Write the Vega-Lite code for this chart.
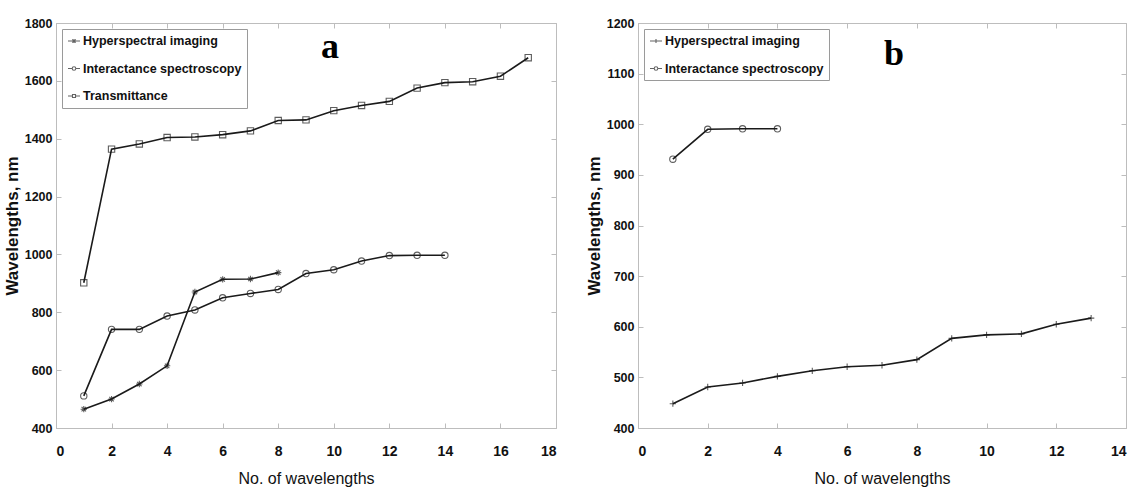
{
  "$schema": "https://vega.github.io/schema/vega-lite/v6.json",
  "padding": {"left": 2, "top": 16, "right": 5, "bottom": 0},
  "background": "white",
  "datasets": {
    "a": [
      {"method": "Hyperspectral imaging", "n": 1, "wl": 465},
      {"method": "Hyperspectral imaging", "n": 2, "wl": 500},
      {"method": "Hyperspectral imaging", "n": 3, "wl": 552},
      {"method": "Hyperspectral imaging", "n": 4, "wl": 615},
      {"method": "Hyperspectral imaging", "n": 5, "wl": 870},
      {"method": "Hyperspectral imaging", "n": 6, "wl": 914},
      {"method": "Hyperspectral imaging", "n": 7, "wl": 915},
      {"method": "Hyperspectral imaging", "n": 8, "wl": 937},
      {"method": "Interactance spectroscopy", "n": 1, "wl": 511},
      {"method": "Interactance spectroscopy", "n": 2, "wl": 741},
      {"method": "Interactance spectroscopy", "n": 3, "wl": 741},
      {"method": "Interactance spectroscopy", "n": 4, "wl": 787},
      {"method": "Interactance spectroscopy", "n": 5, "wl": 808},
      {"method": "Interactance spectroscopy", "n": 6, "wl": 850},
      {"method": "Interactance spectroscopy", "n": 7, "wl": 865},
      {"method": "Interactance spectroscopy", "n": 8, "wl": 879},
      {"method": "Interactance spectroscopy", "n": 9, "wl": 934},
      {"method": "Interactance spectroscopy", "n": 10, "wl": 947},
      {"method": "Interactance spectroscopy", "n": 11, "wl": 977},
      {"method": "Interactance spectroscopy", "n": 12, "wl": 996},
      {"method": "Interactance spectroscopy", "n": 13, "wl": 997},
      {"method": "Interactance spectroscopy", "n": 14, "wl": 997},
      {"method": "Transmittance", "n": 1, "wl": 902},
      {"method": "Transmittance", "n": 2, "wl": 1364},
      {"method": "Transmittance", "n": 3, "wl": 1382},
      {"method": "Transmittance", "n": 4, "wl": 1404},
      {"method": "Transmittance", "n": 5, "wl": 1406},
      {"method": "Transmittance", "n": 6, "wl": 1414},
      {"method": "Transmittance", "n": 7, "wl": 1427},
      {"method": "Transmittance", "n": 8, "wl": 1463},
      {"method": "Transmittance", "n": 9, "wl": 1465},
      {"method": "Transmittance", "n": 10, "wl": 1497},
      {"method": "Transmittance", "n": 11, "wl": 1515},
      {"method": "Transmittance", "n": 12, "wl": 1529},
      {"method": "Transmittance", "n": 13, "wl": 1575},
      {"method": "Transmittance", "n": 14, "wl": 1594},
      {"method": "Transmittance", "n": 15, "wl": 1597},
      {"method": "Transmittance", "n": 16, "wl": 1616},
      {"method": "Transmittance", "n": 17, "wl": 1680}
    ],
    "b": [
      {"method": "Hyperspectral imaging", "n": 1, "wl": 448},
      {"method": "Hyperspectral imaging", "n": 2, "wl": 481},
      {"method": "Hyperspectral imaging", "n": 3, "wl": 489},
      {"method": "Hyperspectral imaging", "n": 4, "wl": 502},
      {"method": "Hyperspectral imaging", "n": 5, "wl": 513},
      {"method": "Hyperspectral imaging", "n": 6, "wl": 521},
      {"method": "Hyperspectral imaging", "n": 7, "wl": 524},
      {"method": "Hyperspectral imaging", "n": 8, "wl": 535},
      {"method": "Hyperspectral imaging", "n": 9, "wl": 577},
      {"method": "Hyperspectral imaging", "n": 10, "wl": 584},
      {"method": "Hyperspectral imaging", "n": 11, "wl": 586},
      {"method": "Hyperspectral imaging", "n": 12, "wl": 605},
      {"method": "Hyperspectral imaging", "n": 13, "wl": 617},
      {"method": "Interactance spectroscopy", "n": 1, "wl": 931},
      {"method": "Interactance spectroscopy", "n": 2, "wl": 990},
      {"method": "Interactance spectroscopy", "n": 3, "wl": 991},
      {"method": "Interactance spectroscopy", "n": 4, "wl": 991}
    ]
  },
  "config": {
    "view": {"stroke": "#bdbdbd", "strokeWidth": 1},
    "axis": {
      "domainColor": "#bdbdbd",
      "tickColor": "#bdbdbd",
      "tickSize": -5,
      "grid": false,
      "format": "d",
      "labelColor": "#111111",
      "titleColor": "#111111",
      "labelFont": "Liberation Sans",
      "labelFontWeight": "bold"
    },
    "axisX": {"labelFontSize": 14, "labelPadding": 21, "titleFont": "Liberation Sans", "titleFontSize": 16, "titleFontWeight": "normal", "titlePadding": 12},
    "axisY": {"labelFontSize": 12.5, "labelPadding": 9, "titleFont": "Liberation Sans", "titleFontSize": 17, "titleFontWeight": "bold", "titlePadding": 3},
    "legend": {
      "orient": "top-left",
      "offset": 6,
      "title": null,
      "fillColor": "white",
      "strokeColor": "#9a9a9a",
      "padding": 5,
      "rowPadding": 13.5,
      "labelFont": "Liberation Sans",
      "labelFontSize": 12.5,
      "labelFontWeight": "bold",
      "labelColor": "#111111",
      "labelOffset": 2,
      "labelLimit": 0,
      "symbolSize": 144,
      "symbolStrokeColor": "#222222",
      "symbolStrokeWidth": 1.1,
      "symbolFillColor": "transparent"
    },
    "title": {"font": "Liberation Serif", "fontSize": 36, "fontWeight": "bold", "color": "#000000", "anchor": "start", "frame": "group", "baseline": "alphabetic"}
  },
  "hconcat": [
    {
      "width": 500,
      "height": 405,
      "title": {"text": "a", "dx": 265, "offset": -49},
      "data": {"name": "a"},
      "layer": [
        {
          "mark": {"type": "line", "color": "#1a1a1a", "strokeWidth": 1.6},
          "encoding": {
            "x": {"field": "n", "type": "quantitative", "scale": {"domain": [0, 18], "nice": false}, "axis": {"values": [0, 2, 4, 6, 8, 10, 12, 14, 16, 18], "title": "No. of wavelengths"}},
            "y": {"field": "wl", "type": "quantitative", "scale": {"domain": [400, 1800], "nice": false, "zero": false}, "axis": {"values": [400, 600, 800, 1000, 1200, 1400, 1600, 1800], "title": "Wavelengths, nm"}},
            "detail": {"field": "method"}
          }
        },
        {
          "mark": {"type": "point", "filled": false, "stroke": "#1a1a1a", "strokeWidth": 1.1, "size": 40},
          "encoding": {
            "x": {"field": "n", "type": "quantitative", "axis": null},
            "y": {"field": "wl", "type": "quantitative", "axis": null},
            "shape": {
              "field": "method",
              "type": "nominal",
              "scale": {
                "domain": ["Hyperspectral imaging", "Interactance spectroscopy", "Transmittance"],
                "range": ["M-1,0L1,0M0,-1L0,1M-0.7,-0.7L0.7,0.7M-0.7,0.7L0.7,-0.7", "circle", "square"]
              },
              "legend": null
            }
          }
        },
        {
          "transform": [{"filter": "false"}],
          "mark": {"type": "point", "filled": false, "stroke": "#1a1a1a", "strokeWidth": 1.1},
          "encoding": {
            "x": {"field": "n", "type": "quantitative", "axis": null},
            "y": {"field": "wl", "type": "quantitative", "axis": null},
            "shape": {
              "field": "method",
              "type": "nominal",
              "scale": {
                "domain": ["Hyperspectral imaging", "Interactance spectroscopy", "Transmittance"],
                "range": [
                  "M-1,0L1,0M-0.28,-0.28L0.28,0.28M-0.28,0.28L0.28,-0.28M0,-0.3L0,0.3",
                  "M-1,0L-0.3,0M0.3,0L1,0M-0.3,0A0.3,0.3 0 1,0 0.3,0A0.3,0.3 0 1,0 -0.3,0",
                  "M-1,0L-0.25,0M0.25,0L1,0M-0.25,-0.25L0.25,-0.25L0.25,0.25L-0.25,0.25Z"
                ]
              }
            }
          }
        },
        {
          "mark": {"type": "point", "opacity": 0},
          "encoding": {
            "x": {"field": "n", "type": "quantitative", "axis": {"orient": "top", "labels": false, "title": null, "domain": false, "values": [0, 2, 4, 6, 8, 10, 12, 14, 16, 18]}},
            "y": {"field": "wl", "type": "quantitative", "axis": {"orient": "right", "labels": false, "title": null, "domain": false, "values": [400, 600, 800, 1000, 1200, 1400, 1600, 1800]}}
          }
        }
      ],
      "resolve": {"axis": {"x": "independent", "y": "independent"}, "scale": {"shape": "independent"}, "legend": {"shape": "independent"}}
    },
    {
      "width": 488,
      "height": 405,
      "title": {"text": "b", "dx": 246, "offset": -56},
      "data": {"name": "b"},
      "layer": [
        {
          "mark": {"type": "line", "color": "#1a1a1a", "strokeWidth": 1.6},
          "encoding": {
            "x": {"field": "n", "type": "quantitative", "scale": {"domain": [0, 14], "nice": false}, "axis": {"values": [0, 2, 4, 6, 8, 10, 12, 14], "title": "No. of wavelengths"}},
            "y": {"field": "wl", "type": "quantitative", "scale": {"domain": [400, 1200], "nice": false, "zero": false}, "axis": {"values": [400, 500, 600, 700, 800, 900, 1000, 1100, 1200], "title": "Wavelengths, nm"}},
            "detail": {"field": "method"}
          }
        },
        {
          "mark": {"type": "point", "filled": false, "stroke": "#1a1a1a", "strokeWidth": 1.1, "size": 40},
          "encoding": {
            "x": {"field": "n", "type": "quantitative", "axis": null},
            "y": {"field": "wl", "type": "quantitative", "axis": null},
            "shape": {
              "field": "method",
              "type": "nominal",
              "scale": {
                "domain": ["Hyperspectral imaging", "Interactance spectroscopy"],
                "range": ["M-1,0L1,0M0,-1L0,1", "circle"]
              },
              "legend": null
            }
          }
        },
        {
          "transform": [{"filter": "false"}],
          "mark": {"type": "point", "filled": false, "stroke": "#1a1a1a", "strokeWidth": 1.1},
          "encoding": {
            "x": {"field": "n", "type": "quantitative", "axis": null},
            "y": {"field": "wl", "type": "quantitative", "axis": null},
            "shape": {
              "field": "method",
              "type": "nominal",
              "scale": {
                "domain": ["Hyperspectral imaging", "Interactance spectroscopy"],
                "range": [
                  "M-1,0L1,0M0,-0.35L0,0.35",
                  "M-1,0L-0.3,0M0.3,0L1,0M-0.3,0A0.3,0.3 0 1,0 0.3,0A0.3,0.3 0 1,0 -0.3,0"
                ]
              }
            }
          }
        },
        {
          "mark": {"type": "point", "opacity": 0},
          "encoding": {
            "x": {"field": "n", "type": "quantitative", "axis": {"orient": "top", "labels": false, "title": null, "domain": false, "values": [0, 2, 4, 6, 8, 10, 12, 14]}},
            "y": {"field": "wl", "type": "quantitative", "axis": {"orient": "right", "labels": false, "title": null, "domain": false, "values": [400, 500, 600, 700, 800, 900, 1000, 1100, 1200]}}
          }
        }
      ],
      "resolve": {"axis": {"x": "independent", "y": "independent"}, "scale": {"shape": "independent"}, "legend": {"shape": "independent"}}
    }
  ],
  "resolve": {"scale": {"shape": "independent"}, "legend": {"shape": "independent"}},
  "spacing": 27
}
